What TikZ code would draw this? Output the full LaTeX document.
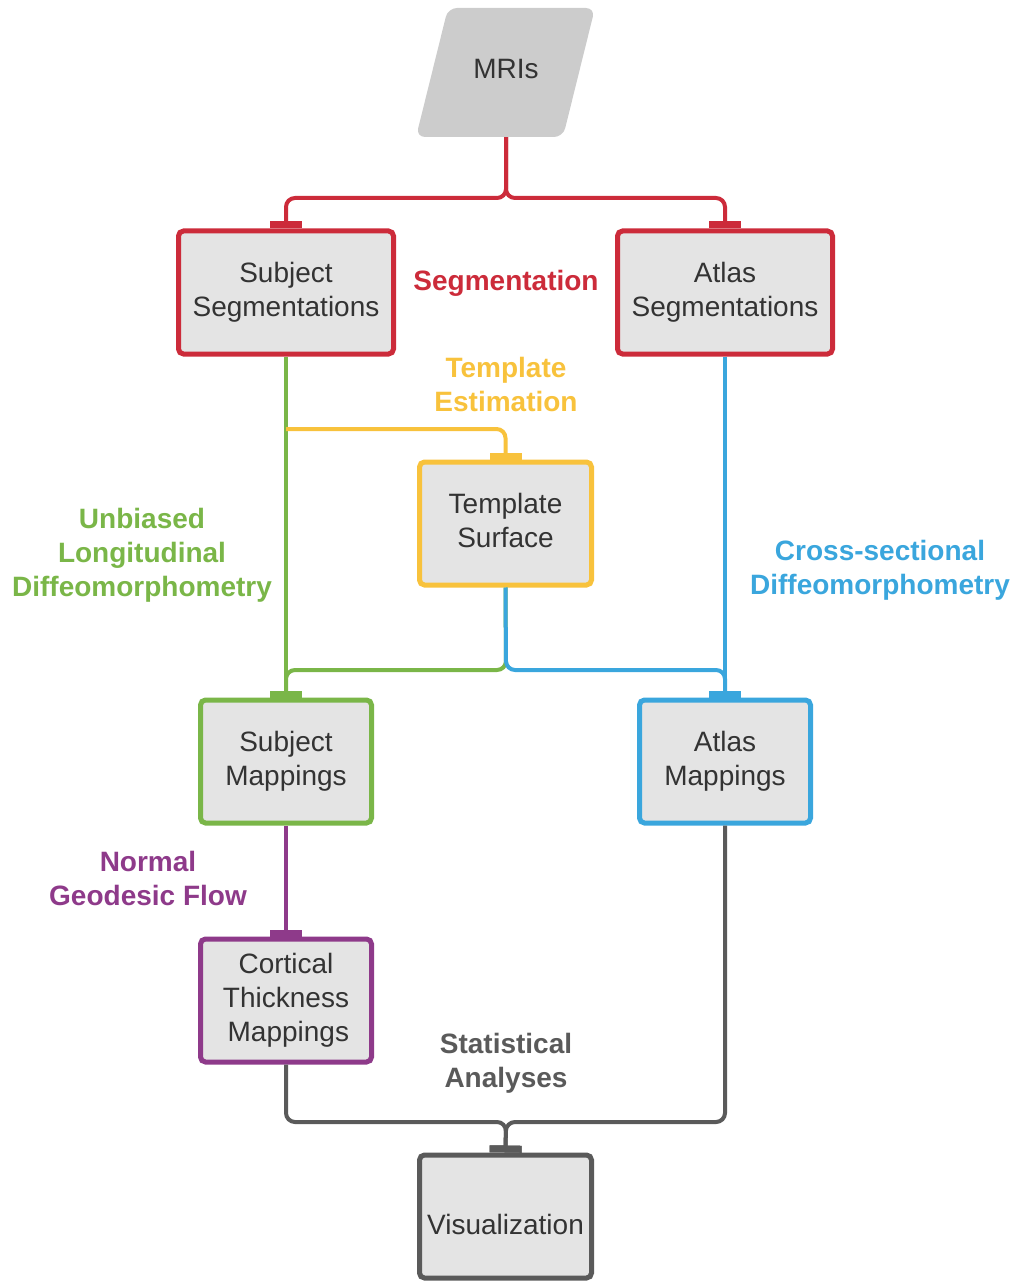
\documentclass[tikz,border=0pt]{standalone}
\usepackage{fontspec}
\setmainfont{Liberation Sans}
\usetikzlibrary{arrows.meta}
\definecolor{cred}{HTML}{CC2B3A}
\definecolor{cyel}{HTML}{F8C23C}
\definecolor{cgrn}{HTML}{7AB648}
\definecolor{cblu}{HTML}{3AA6DD}
\definecolor{cpur}{HTML}{8E3A8A}
\definecolor{cgry}{HTML}{5A5A5A}
\definecolor{ctxt}{HTML}{333333}
\definecolor{cbox}{HTML}{E4E4E4}
\definecolor{cmri}{HTML}{CCCCCC}
\tikzset{
  x=1pt, y=-1pt,
  box/.style={draw=#1, fill=cbox, line width=5pt, rounded corners=5pt,
    minimum height=123pt, align=center, text=ctxt,
    font=\fontsize{28}{34}\selectfont, inner sep=0pt},
  conn/.style={draw=#1, line width=4pt, rounded corners=9pt,
    -{Rectangle[length=7pt,width=32pt]}},
  lbl/.style={text=#1, align=center, font=\fontsize{28}{34}\selectfont\bfseries, inner sep=0pt},
}
\begin{document}
\begin{tikzpicture}
\useasboundingbox (0,0) rectangle (1017,1281);
% MRIs
\fill[cmri, rounded corners=9pt] (448,8) -- (595,8) -- (563,137) -- (416,137) -- cycle;
\node[text=ctxt, font=\fontsize{28}{34}\selectfont, minimum height=129pt, inner sep=0pt, text depth=7pt] (mri) at (506,72.5) {MRIs};
% boxes
\node[box=cred, minimum width=215pt] (sseg) at (286,292.5) {Subject\\Segmentations};
\node[box=cred, minimum width=215pt] (aseg) at (725,292.5) {Atlas\\Segmentations};
\node[box=cyel, minimum width=172pt, text depth=6pt] (tsurf) at (505.5,523.5) {Template\\Surface};
\node[box=cgrn, minimum width=171pt] (smap) at (286,761.5) {Subject\\Mappings};
\node[box=cblu, minimum width=171pt] (amap) at (725,761.5) {Atlas\\Mappings};
\node[box=cpur, minimum width=171pt] (ctm) at (286,1000.5) {Cortical\\Thickness\\\,Mappings};
\node[box=cgry, minimum width=172pt, text height=36.5pt, text depth=0pt] (vis) at (505.5,1216.5) {Visualization};
% coordinates
\coordinate (rsplit) at (506,198);
\coordinate (ybranch) at (286,429);
\coordinate (tsplit) at (506,670);
\coordinate (gsplit) at (506,1122);
% connectors
\draw[conn=cred] (mri.south) -- (rsplit) -| (sseg.north);
\draw[conn=cred] (mri.south) -- (rsplit) -| (aseg.north);
\draw[conn=cgrn] (sseg.south) -- (smap.north);
\draw[conn=cyel] (ybranch) -| (tsurf.north);
\draw[conn=cgrn] (tsurf.south) -- (tsplit) -| (smap.north);
\draw[conn=cblu] (tsurf.south) -- (tsplit) -| (amap.north);
\draw[conn=cblu] (aseg.south) -- (amap.north);
\draw[conn=cpur] (smap.south) -- (ctm.north);
\draw[conn=cgry] (ctm.south) |- (gsplit) -- (vis.north);
\draw[conn=cgry] (amap.south) |- (gsplit) -- (vis.north);
% labels
\node[lbl=cred] (lseg) at (506,283) {Segmentation};
\node[lbl=cyel] (ltmp) at (506,384) {Template\\Estimation};
\node[lbl=cgrn] (lulong) at (142,555) {Unbiased\\Longitudinal\\Diffeomorphometry};
\node[lbl=cblu] (lcross) at (880,570) {Cross-sectional\\Diffeomorphometry};
\node[lbl=cpur] (lngf) at (148,878) {Normal\\Geodesic Flow};
\node[lbl=cgry] (lstat) at (506,1063) {Statistical\\Analyses};
\end{tikzpicture}
\end{document}
